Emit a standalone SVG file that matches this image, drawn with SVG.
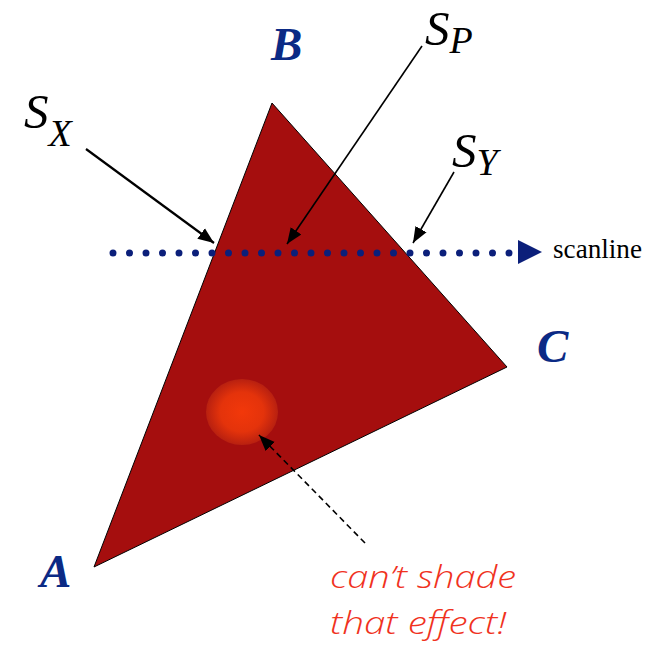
<svg xmlns="http://www.w3.org/2000/svg" width="662" height="645" viewBox="0 0 662 645">
<style>
.vlabel{font-family:"Liberation Serif","DejaVu Serif",serif;font-weight:bold;font-style:italic;font-size:47px;fill:#0b2a85}
.slabel{font-family:"Liberation Serif","DejaVu Serif",serif;font-style:italic;fill:#000}
.conn{stroke:#000;fill:none}
.note{font-family:"Open Sans","Liberation Sans",sans-serif;font-style:italic;font-weight:300;font-size:32px;fill:#f0321e}
</style>
<defs>
<marker id="ahs" viewBox="0 0 10 10" refX="10" refY="5" markerWidth="16" markerHeight="16" markerUnits="userSpaceOnUse" orient="auto">
<path d="M0,1 L10,5 L0,9 z" fill="#000"/>
</marker>
<radialGradient id="spot" cx="0.5" cy="0.5" r="0.5">
<stop offset="0" stop-color="#f2380a"/>
<stop offset="0.6" stop-color="#e4330b"/>
<stop offset="1" stop-color="#b82010"/>
</radialGradient>
</defs>
<g id="triangle">
<polygon points="272,103 507,367 94,567" fill="#a50e0e" stroke="#000" stroke-width="1"/>
</g>
<g id="spot-node">
<ellipse cx="242" cy="412" rx="36" ry="33" fill="url(#spot)"/>
</g>
<g id="scanline">
<line x1="113" y1="253" x2="510" y2="253" stroke="#0b1f7a" stroke-width="7" stroke-linecap="round" stroke-dasharray="0 16.5"/>
<polygon points="518,240 542,252 518,264" fill="#0b1f7a"/>
<text x="553" y="258" font-family="Liberation Serif,serif" font-size="27" fill="#000" textLength="89" lengthAdjust="spacingAndGlyphs">scanline</text>
</g>
<g id="label-A"><text class="vlabel" x="40" y="587">A</text></g>
<g id="label-B"><text class="vlabel" x="271" y="60">B</text></g>
<g id="label-C"><text class="vlabel" x="537" y="362">C</text></g>
<g id="label-SX"><text class="slabel" x="24" y="128" font-size="49">S<tspan font-size="38" dy="18">X</tspan></text></g>
<g id="label-SP"><text class="slabel" x="425" y="45" font-size="49">S<tspan font-size="38" dy="8">P</tspan></text></g>
<g id="label-SY"><text class="slabel" x="452" y="167" font-size="49">S<tspan font-size="38" dy="8">Y</tspan></text></g>
<g id="note"><text class="note" x="330" y="588" textLength="186" lengthAdjust="spacingAndGlyphs">can’t shade</text>
<text class="note" x="330" y="634" textLength="176" lengthAdjust="spacingAndGlyphs">that effect!</text></g>
<g id="connectors">
<line class="conn" x1="86" y1="149" x2="214" y2="243" stroke-width="2.2" marker-end="url(#ahs)"/>
<line class="conn" x1="422" y1="46" x2="287" y2="244" stroke-width="1.6" marker-end="url(#ahs)"/>
<line class="conn" x1="454" y1="172" x2="413" y2="243" stroke-width="1.6" marker-end="url(#ahs)"/>
<line class="conn" x1="365" y1="543" x2="259" y2="435" stroke-width="1.6" stroke-dasharray="6 4" marker-end="url(#ahs)"/>
</g>
</svg>
